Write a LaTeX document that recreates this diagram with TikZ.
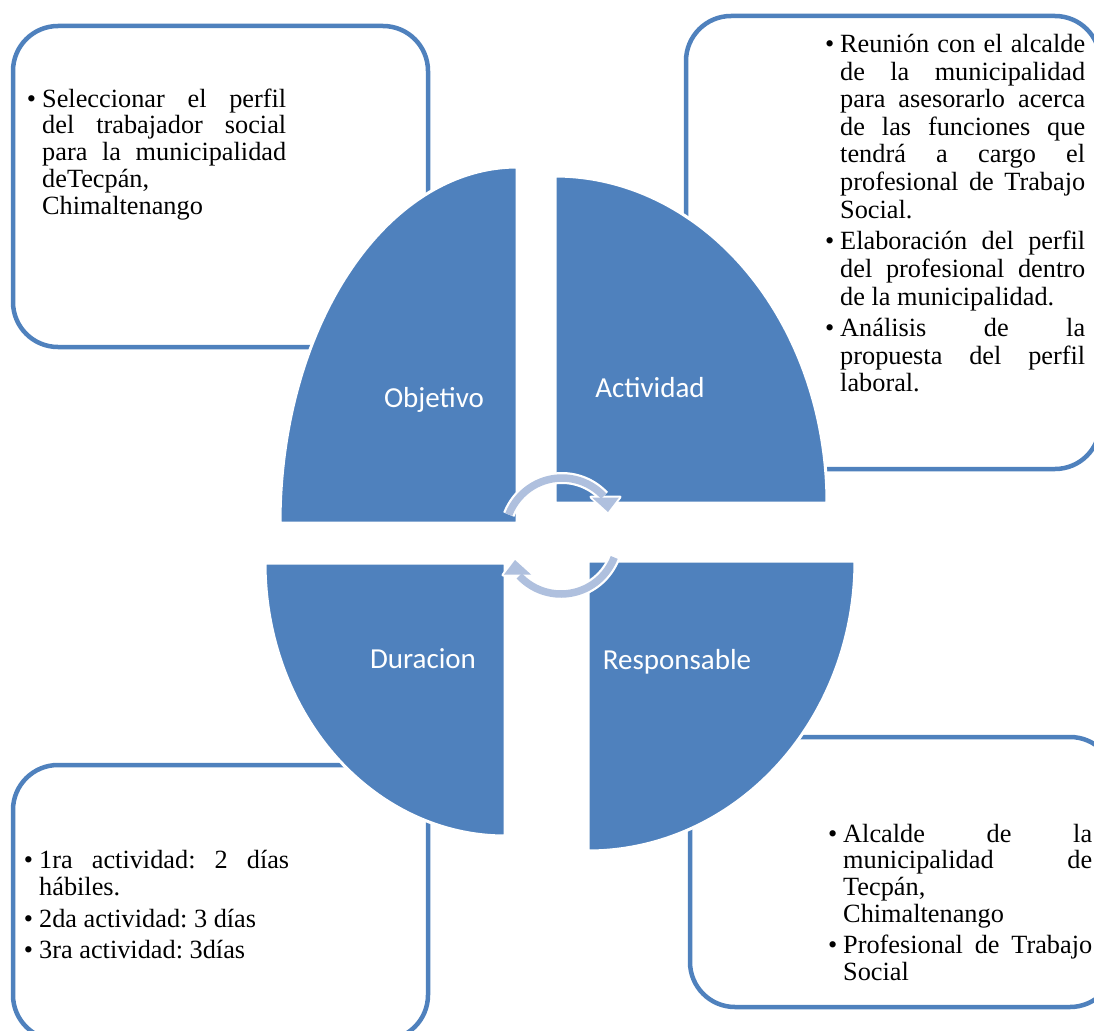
\documentclass[tikz,border=0pt]{standalone}
\usepackage{fontspec}
\setmainfont{Liberation Serif}
\newfontfamily\labfont{Carlito}
\usetikzlibrary{calc}
\definecolor{accent}{HTML}{4F81BD}
\definecolor{lightarr}{HTML}{AFC0DE}
\frenchspacing
\newlength\colw
\newcommand\jfill{\spaceskip=6.6pt plus 1fil\relax}
\newcommand\bj[1]{\hbox to\colw{\llap{\textbullet\hskip6pt}\jfill#1}}
\newcommand\bn[1]{\hbox to\colw{\llap{\textbullet\hskip6pt}#1\hfil}}
\newcommand\cj[1]{\hbox to\colw{\jfill#1}}
\newcommand\cn[1]{\hbox to\colw{#1\hfil}}
\newcommand\itemgap{\vskip4.5pt}
\newcommand\txtblock[3]{\vtop{\colw=#1\relax\fontsize{26.3}{#2}\selectfont\lineskiplimit=-\maxdimen #3}}
\begin{document}
\begin{tikzpicture}[x=1pt,y=-1pt,
  box/.style={draw=accent, line width=4.5pt, rounded corners=45pt},
  quarter/.style={fill=accent, draw=white, line width=3pt},
  lab/.style={text=white, font=\labfont\fontsize{29}{34}\selectfont, anchor=base, inner sep=0pt},
  txt/.style={anchor=base west, inner sep=0pt, text=black}]
\useasboundingbox (0,0) rectangle (1094,1030);
\clip (0,0) rectangle (1094,1030);
\fill[white] (0,0) rectangle (1094,1030);
% boxes
\draw[box] (13,26) rectangle (428,347);
\draw[box] (686,16) rectangle (1100,469);
\draw[box] (13,765) rectangle (428,1040);
\draw[box] (690,737) rectangle (1115,1007);
% quarters
\filldraw[quarter] (517,523) -- plot[domain=180:270,samples=80] ({517+237*cos(\x)},{523+356*sin(\x)}) -- cycle;
\filldraw[quarter] (555,503) -- plot[domain=270:360,samples=80] ({555+272*cos(\x)},{503+327*sin(\x)}) -- cycle;
\filldraw[quarter] (505,563) -- plot[domain=90:180,samples=80] ({505+240*cos(\x)},{563+273*sin(\x)}) -- cycle;
\filldraw[quarter] (588,561) -- plot[domain=0:90,samples=80] ({588+267*cos(\x)},{561+290*sin(\x)}) -- cycle;
% circular arrows (white outline)
\draw[white, line width=12pt] plot[domain=201:317,samples=40] ({562+57*cos(\x)},{535+57*sin(\x)});
\filldraw[white, line width=3pt, line join=round] (591,497) -- (620,497) -- (608,513) -- cycle;
\draw[white, line width=12pt] plot[domain=21:137,samples=40] ({561+57*cos(\x)},{537+57*sin(\x)});
\filldraw[white, line width=3pt, line join=round] (532,575) -- (503,575) -- (515,559) -- cycle;
\draw[lightarr, line width=7.5pt] plot[domain=201:317,samples=40] ({562+57*cos(\x)},{535+57*sin(\x)});
\fill[lightarr] (592,497.5) -- (619,497.5) -- (608,512) -- cycle;
\draw[lightarr, line width=7.5pt] plot[domain=21:137,samples=40] ({561+57*cos(\x)},{537+57*sin(\x)});
\fill[lightarr] (531,574.5) -- (504,574.5) -- (515,560) -- cycle;
% labels
\node[lab] (objetivo) at (434,407) {Objetivo};
\node[lab] (actividad) at (650,397) {Actividad};
\node[lab] (duracion) at (423,668) {Duracion};
\node[lab] (responsable) at (677,669) {Responsable};
% texts
\node[txt] (tltext) at (42,107) {\txtblock{244pt}{27pt}{%
\bj{Seleccionar el perfil}
\cj{del trabajador social}
\cj{para la municipalidad}
\cn{deTecpán,}
\cn{Chimaltenango}}};
\node[txt] (trtext) at (840,53) {\txtblock{245pt}{27.5pt}{%
\bj{Reunión con el alcalde}
\cj{de la municipalidad}
\cj{para asesorarlo acerca}
\cj{de las funciones que}
\cj{tendrá a cargo el}
\cj{profesional de Trabajo}
\cn{Social.}
\itemgap
\bj{Elaboración del perfil}
\cj{del profesional dentro}
\cn{de la municipalidad.}
\itemgap
\bj{Análisis de la}
\cj{propuesta del perfil}
\cn{laboral.}}};
\node[txt] (bltext) at (39,868) {\txtblock{250pt}{27.3pt}{%
\bj{1ra actividad: 2 días}
\cn{hábiles.}
\itemgap
\bn{2da actividad: 3 días}
\itemgap
\bn{3ra actividad: 3días}}};
\node[txt] (brtext) at (843,842) {\txtblock{249pt}{26.8pt}{%
\bj{Alcalde de la}
\cj{municipalidad de}
\cn{Tecpán,}
\cn{Chimaltenango}
\itemgap
\bj{Profesional de Trabajo}
\cn{Social}}};
\end{tikzpicture}
\end{document}
